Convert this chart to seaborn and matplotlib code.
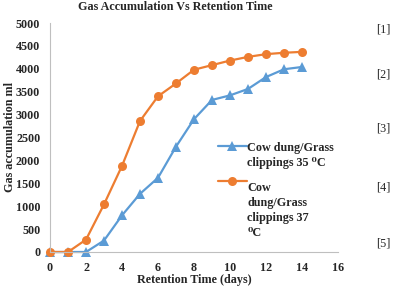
import pandas as pd
import seaborn as sns
import matplotlib.pyplot as plt

days = [0, 1, 2, 3, 4, 5, 6, 7, 8, 9, 10, 11, 12, 13, 14]
gas35 = [0, 0, 0, 250, 800, 1270, 1620, 2300, 2900, 3320, 3420, 3560, 3820, 3990, 4040]
gas37 = [0, 0, 270, 1040, 1880, 2860, 3400, 3680, 3980, 4080, 4180, 4260, 4320, 4350, 4370]
label35 = 'Cow dung/Grass\nclippings 35 \u2070C'
label37 = 'Cow\ndung/Grass\nclippings 37\n\u2070C'
side_refs = ['[1]', '[2]', '[3]', '[4]', '[5]']

df = pd.DataFrame({
    'day': days * 2,
    'gas': gas35 + gas37,
    'series': [label35] * len(days) + [label37] * len(days),
})

sns.set_style('white')
plt.rcParams['font.family'] = ['Liberation Serif', 'DejaVu Serif']
fs = 8.7

fig = plt.figure(figsize=(3.98, 2.94), dpi=100)
ax = fig.add_axes([50 / 398, 1 - 252 / 294, 288 / 398, 229 / 294])

sns.lineplot(data=df, x='day', y='gas', hue='series', style='series',
             palette=['#5B9BD5', '#ED7D31'], markers=['^', 'o'], dashes=False,
             linewidth=1.6, markersize=6.5, markeredgewidth=0, ax=ax)
for ln in ax.lines:
    ln.set_clip_on(False)

ax.set_xlim(0, 16)
ax.set_ylim(0, 5000)
ax.set_xticks(range(0, 17, 2))
ax.set_yticks(range(0, 5001, 500))
ax.tick_params(length=0, labelsize=fs)
ax.tick_params(axis='y', pad=7)
ax.tick_params(axis='x', pad=7)
for t in ax.get_xticklabels() + ax.get_yticklabels():
    t.set_fontweight('bold')
for s in ['top', 'right']:
    ax.spines[s].set_visible(False)
for s in ['left', 'bottom']:
    ax.spines[s].set_color('#BFBFBF')
    ax.spines[s].set_linewidth(0.8)
ax.set_xlabel('Retention Time (days)', fontsize=fs, fontweight='bold', labelpad=0)
ax.set_ylabel('Gas accumulation ml', fontsize=fs, fontweight='bold', labelpad=0)

leg = ax.legend(loc='upper left', bbox_to_anchor=(0.565, 0.5), frameon=False,
                handlelength=2.4, handletextpad=0.05, labelspacing=1.0,
                borderaxespad=0, prop={'size': fs, 'weight': 'bold'})
for t in leg.get_texts():
    t.set_linespacing(1.35)
# keep each handle level with the first line of its label
line_h = fs * 1.35 * 1.2
for h, n in zip(leg.get_lines(), [2, 4]):
    h.set_ydata([y + (n - 1) * line_h / 2 for y in h.get_ydata()])

fig.text(0.44, 0.997, 'Gas Accumulation Vs Retention Time', ha='center', va='top',
         fontsize=fs, fontweight='bold')

for ref, ypix in zip(side_refs, [29, 74, 129, 187, 243]):
    fig.text(383 / 398, 1 - ypix / 294, ref, ha='center', va='center', fontsize=fs)

fig.savefig('out.png', dpi=100)
